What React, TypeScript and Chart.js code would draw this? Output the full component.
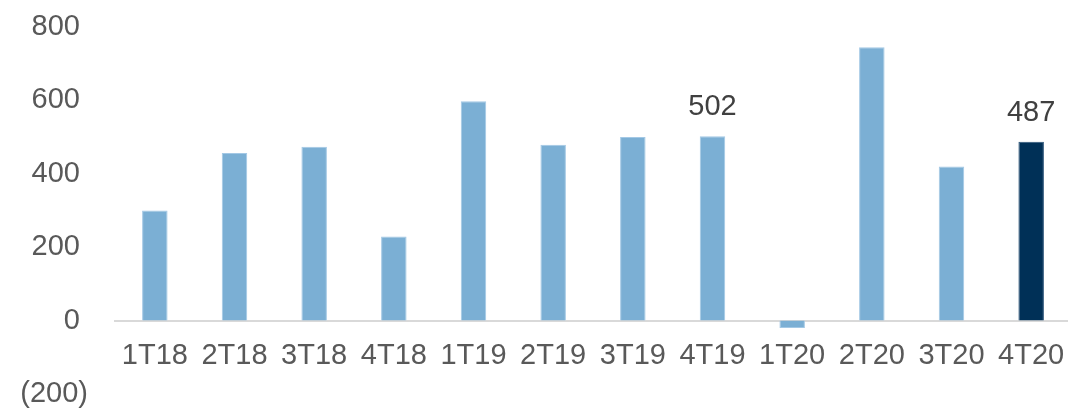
import React, { useEffect, useRef } from "react";
import { Chart, registerables } from "chart.js";

Chart.register(...registerables);

const categories = ["1T18", "2T18", "3T18", "4T18", "1T19", "2T19", "3T19", "4T19", "1T20", "2T20", "3T20", "4T20"];
const values = [300, 457, 474, 229, 598, 479, 500, 502, -20, 745, 420, 487];
const highlightIndex = 11;
const labeledIndices = [7, 11];
const yTicks = [-200, 0, 200, 400, 600, 800];

const LIGHT = "#7BAFD4";
const LIGHT_BORDER = "#A3C8E5";
const DARK = "#003057";
const DARK_BORDER = "#2A5378";
const FONT = "'Liberation Sans', Arial, sans-serif";

const fmt = (v: number) => (v < 0 ? `(${Math.abs(v)})` : `${v} `);

const dataLabelPlugin = {
  id: "dataLabels",
  afterDatasetsDraw(chart: any) {
    const ctx = chart.ctx;
    const meta = chart.getDatasetMeta(0);
    ctx.save();
    ctx.font = `29px ${FONT}`;
    ctx.fillStyle = "#404040";
    ctx.textAlign = "center";
    ctx.textBaseline = "middle";
    labeledIndices.forEach((i) => {
      const el = meta.data[i];
      if (!el) return;
      ctx.fillText(String(values[i]), el.x, el.y - 29);
    });
    ctx.restore();
  },
};

export default function App() {
  const ref = useRef<HTMLCanvasElement | null>(null);

  useEffect(() => {
    if (!ref.current) return;
    const chart = new Chart(ref.current, {
      type: "bar",
      data: {
        labels: categories,
        datasets: [
          {
            data: values,
            backgroundColor: values.map((_, i) => (i === highlightIndex ? DARK : LIGHT)),
            borderColor: values.map((_, i) => (i === highlightIndex ? DARK_BORDER : LIGHT_BORDER)),
            borderWidth: 1,
            barPercentage: 0.32,
            categoryPercentage: 1,
          },
        ],
      },
      options: {
        animation: false,
        responsive: false,
        maintainAspectRatio: false,
        layout: { padding: { top: 27, bottom: 14, left: 0, right: 0 } },
        plugins: {
          legend: { display: false },
          tooltip: { enabled: false },
        },
        scales: {
          x: {
            position: { y: 0 } as any,
            offset: true,
            afterFit: (scale: any) => {
              scale.height = 0;
              scale.paddingLeft = 0;
              scale.paddingRight = 0;
            },
            grid: { display: false, drawTicks: false },
            border: { display: true, color: "#D9D9D9", width: 2 },
            ticks: {
              color: "#595959",
              font: { family: FONT, size: 29, lineHeight: 1.2 },
              padding: 18,
              maxRotation: 0,
              autoSkip: false,
            },
          },
          y: {
            min: -200,
            max: 800,
            afterFit: (scale: any) => {
              scale.width = 115;
              scale.paddingTop = 0;
              scale.paddingBottom = 0;
            },
            afterBuildTicks: (scale: any) => {
              scale.ticks = yTicks.map((v) => ({ value: v }));
            },
            grid: { display: false, drawTicks: false },
            border: { display: false },
            ticks: {
              color: "#595959",
              font: { family: FONT, size: 29, lineHeight: 0.9 },
              padding: 27,
              callback: (v: any) => fmt(Number(v)),
            },
          },
        },
      },
      plugins: [dataLabelPlugin],
    });
    return () => chart.destroy();
  }, []);

  return (
    <div style={{ position: "absolute", left: 0, top: 0, width: 1068, height: 408, overflow: "hidden", background: "#fff" }}>
      <canvas ref={ref} width={1071} height={408} style={{ width: 1071, height: 408, display: "block" }} />
    </div>
  );
}
